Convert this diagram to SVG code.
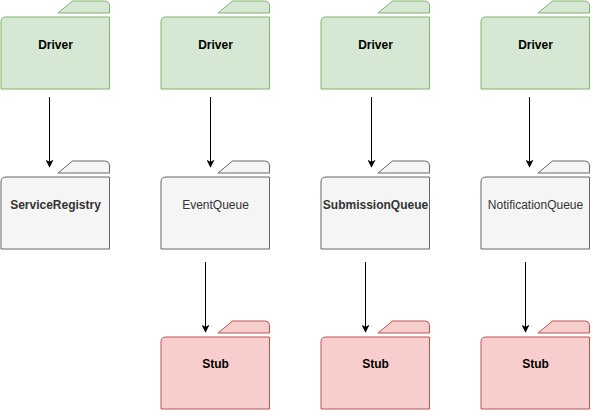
<svg xmlns="http://www.w3.org/2000/svg" width="592" height="412" viewBox="0 0 592 412">
<defs>
<style>
.g{fill:#d5e8d4;stroke:#82b366;stroke-width:1}
.s{fill:#f5f5f5;stroke:#666666;stroke-width:1}
.r{fill:#f8cecc;stroke:#b85450;stroke-width:1}
text{font-family:"Liberation Sans",Arial,sans-serif;font-size:12px;text-anchor:middle}
.b{font-weight:bold}
.dk{fill:#000000}
.gy{fill:#333333}
.conn line{stroke:#000000;stroke-width:1;marker-end:url(#ah)}
</style>
<marker id="ah" viewBox="0 0 10 10" refX="9" refY="5" markerWidth="8" markerHeight="8" markerUnits="userSpaceOnUse" orient="auto">
<path d="M0,0 L10,5 L0,10 L2.5,5 Z" fill="#000"/>
</marker>
<g id="folder">
<path d="M57.5,12.5 L72,0.5 L104,0.5 Q109,0.5 109,5.5 L109,12.5 Z"/>
<path d="M0.5,21.5 Q0.5,16.5 5.5,16.5 L109,16.5 L109,88.5 L0.5,88.5 Z"/>
</g>
</defs>
<g id="driver1"><use href="#folder" x="0.5" y="0.5" class="g"/><text x="55.5" y="49" class="b dk">Driver</text></g>
<g id="driver2"><use href="#folder" x="160.5" y="0.5" class="g"/><text x="215.5" y="49" class="b dk">Driver</text></g>
<g id="driver3"><use href="#folder" x="320.5" y="0.5" class="g"/><text x="375.5" y="49" class="b dk">Driver</text></g>
<g id="driver4"><use href="#folder" x="480.5" y="0.5" class="g"/><text x="535.5" y="49" class="b dk">Driver</text></g>
<g id="serviceRegistry"><use href="#folder" x="0.5" y="160.5" class="s"/><text x="55.5" y="209" class="b gy">ServiceRegistry</text></g>
<g id="eventQueue"><use href="#folder" x="160.5" y="160.5" class="s"/><text x="215.5" y="209" class="gy">EventQueue</text></g>
<g id="submissionQueue"><use href="#folder" x="320.5" y="160.5" class="s"/><text x="375.5" y="209" class="b gy">SubmissionQueue</text></g>
<g id="notificationQueue"><use href="#folder" x="480.5" y="160.5" class="s"/><text x="535.5" y="209" class="gy">NotificationQueue</text></g>
<g id="stub2"><use href="#folder" x="160.5" y="320.5" class="r"/><text x="215.5" y="368" class="b dk">Stub</text></g>
<g id="stub3"><use href="#folder" x="320.5" y="320.5" class="r"/><text x="375.5" y="368" class="b dk">Stub</text></g>
<g id="stub4"><use href="#folder" x="480.5" y="320.5" class="r"/><text x="535.5" y="368" class="b dk">Stub</text></g>
<g id="connectors" class="conn">
<line x1="49.5" y1="97" x2="49.5" y2="167"/>
<line x1="210.5" y1="97" x2="210.5" y2="167"/>
<line x1="371.5" y1="97" x2="371.5" y2="167"/>
<line x1="529.5" y1="97" x2="529.5" y2="167"/>
<line x1="205.5" y1="262" x2="205.5" y2="332"/>
<line x1="365.5" y1="262" x2="365.5" y2="332"/>
<line x1="525.5" y1="262" x2="525.5" y2="332"/>
</g>
</svg>
